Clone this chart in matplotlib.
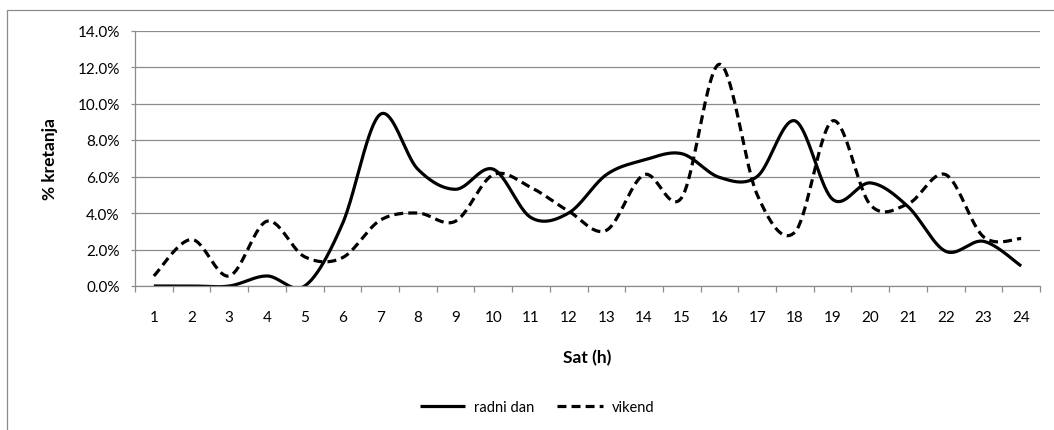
import numpy as np
import matplotlib
matplotlib.use("Agg")
import matplotlib.pyplot as plt
from matplotlib.patches import Rectangle
from matplotlib.ticker import FixedLocator, FuncFormatter

# Hourly share of trips (%)
hours = list(range(1, 25))
radni_dan = [0.0, 0.0, 0.0, 0.55, 0.0, 3.4, 9.4, 6.4, 5.3, 6.4, 3.75, 4.0,
             6.1, 6.9, 7.25, 5.95, 6.0, 9.05, 4.75, 5.65, 4.35, 1.9, 2.45, 1.1]
vikend = [0.55, 2.55, 0.55, 3.55, 1.6, 1.55, 3.6, 4.0, 3.55, 6.1, 5.4, 4.1,
          3.05, 6.1, 4.85, 12.15, 5.0, 2.95, 9.05, 4.45, 4.5, 6.1, 2.7, 2.6]
series_names = ["radni dan", "vikend"]
y_ticks = [0, 2, 4, 6, 8, 10, 12, 14]


def smooth(x, y, n=40):
    """Catmull-Rom style Bezier smoothing through every point."""
    x = np.asarray(x, float)
    y = np.asarray(y, float)
    px = np.concatenate([[x[0]], x, [x[-1]]])
    py = np.concatenate([[y[0]], y, [y[-1]]])
    t = np.linspace(0, 1, n)
    xs, ys = [], []
    for i in range(1, len(px) - 2):
        p0 = np.array([px[i], py[i]])
        p3 = np.array([px[i + 1], py[i + 1]])
        c1 = p0 + (np.array([px[i + 1], py[i + 1]]) - np.array([px[i - 1], py[i - 1]])) / 6
        c2 = p3 - (np.array([px[i + 2], py[i + 2]]) - np.array([px[i], py[i]])) / 6
        b = ((1 - t) ** 3)[:, None] * p0 + (3 * (1 - t) ** 2 * t)[:, None] * c1 \
            + (3 * (1 - t) * t ** 2)[:, None] * c2 + (t ** 3)[:, None] * p3
        xs.append(b[:, 0])
        ys.append(b[:, 1])
    return np.concatenate(xs), np.concatenate(ys)


plt.rcParams["font.family"] = ["Lato", "DejaVu Sans"]
W, H = 1054, 431
fig = plt.figure(figsize=(W / 100, H / 100), dpi=100)

# chart frame
fig.patches.append(Rectangle((7 / W, -0.1), 1.2, 1 - 11 / H + 0.1,
                             transform=fig.transFigure, fill=False,
                             edgecolor="#8c8c8c", linewidth=0.9))

ax = fig.add_axes([135 / W, 1 - 287 / H, (1040 - 135) / W, (287 - 31.5) / H])

grey = "#8c8c8c"
sx, sy = smooth(hours, radni_dan)
l1, = ax.plot(sx, sy, color="black", lw=2.3, solid_capstyle="butt",
              label=series_names[0])
sx, sy = smooth(hours, vikend)
l2, = ax.plot(sx, sy, color="black", lw=2.3, linestyle=(0, (2.8, 1.6)),
              dash_capstyle="butt", label=series_names[1])

ax.set_xlim(0.5, 24.5)
ax.set_ylim(0, 14)
ax.set_yticks(y_ticks)
ax.yaxis.set_major_formatter(FuncFormatter(lambda v, p: f"{v:.1f}%"))
ax.set_xticks(hours)
ax.set_xticklabels([str(h) for h in hours])
ax.xaxis.set_minor_locator(FixedLocator(np.arange(0.5, 25, 1)))

ax.tick_params(axis="x", which="major", length=0, pad=17, labelsize=11)
ax.tick_params(axis="x", which="minor", length=4, width=0.9, color=grey)
ax.tick_params(axis="y", which="major", length=3, width=0.9, color=grey,
               pad=8, labelsize=11)

ax.grid(axis="y", color=grey, linewidth=0.9)
ax.set_axisbelow(True)
for s in ("top", "right"):
    ax.spines[s].set_visible(False)
for s in ("left", "bottom"):
    ax.spines[s].set_color(grey)
    ax.spines[s].set_linewidth(0.9)

ax.set_xlabel("Sat (h)", fontsize=12.5, fontweight="bold", labelpad=18)
ax.set_ylabel("% kretanja", fontsize=12.5, fontweight="bold", labelpad=14)

fig.legend(handles=[l1, l2], loc="center", bbox_to_anchor=(537 / W, 1 - 408 / H),
           ncol=2, frameon=False, fontsize=10.5, handlelength=3.1,
           handletextpad=0.6, columnspacing=1.6)

fig.savefig("out.png", dpi=100)
